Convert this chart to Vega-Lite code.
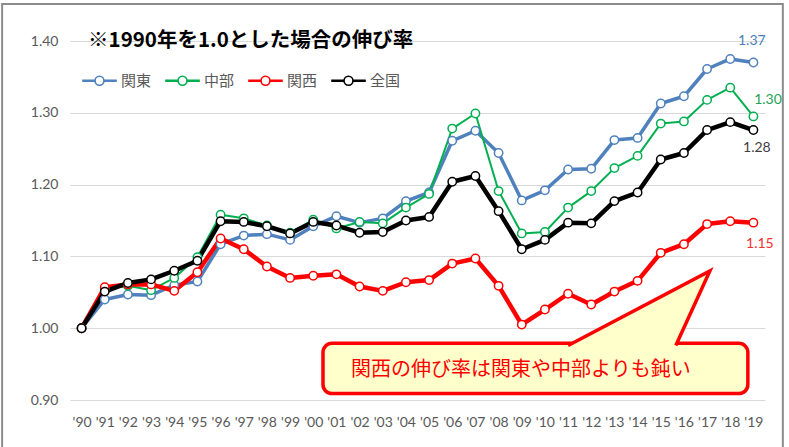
{
  "$schema": "https://vega.github.io/schema/vega-lite/v6.json",
  "width": 695,
  "height": 359,
  "autosize": {"type": "none"},
  "padding": {"left": 70, "top": 41, "right": 24, "bottom": 47},
  "background": "white",
  "config": {
    "view": {"stroke": null},
    "font": "Lato",
    "axisX": {"grid": false, "ticks": false, "domain": false, "tickCount": 30, "labelPadding": 15, "labelFontSize": 14, "labelColor": "#595959", "labelAngle": 0, "labelOverlap": false, "labelSeparation": 0, "labelFlush": false, "labelFont": "Lato"},
    "axisY": {"grid": true, "gridColor": "#D9D9D9", "gridWidth": 1, "ticks": false, "domain": false, "labelPadding": 12, "labelFontSize": 14, "labelColor": "#595959", "labelFont": "Lato"}
  },
  "datasets": {
    "series": [
      {"year": 1990, "関東": 1.000, "中部": 1.000, "関西": 1.000, "全国": 1.000},
      {"year": 1991, "関東": 1.040, "中部": 1.055, "関西": 1.057, "全国": 1.051},
      {"year": 1992, "関東": 1.047, "中部": 1.059, "関西": 1.061, "全国": 1.063},
      {"year": 1993, "関東": 1.046, "中部": 1.053, "関西": 1.061, "全国": 1.068},
      {"year": 1994, "関東": 1.060, "中部": 1.070, "関西": 1.052, "全国": 1.080},
      {"year": 1995, "関東": 1.065, "中部": 1.099, "関西": 1.078, "全国": 1.094},
      {"year": 1996, "関東": 1.117, "中部": 1.158, "関西": 1.125, "全国": 1.149},
      {"year": 1997, "関東": 1.129, "中部": 1.153, "関西": 1.110, "全国": 1.148},
      {"year": 1998, "関東": 1.131, "中部": 1.143, "関西": 1.086, "全国": 1.142},
      {"year": 1999, "関東": 1.123, "中部": 1.133, "関西": 1.070, "全国": 1.132},
      {"year": 2000, "関東": 1.142, "中部": 1.151, "関西": 1.073, "全国": 1.148},
      {"year": 2001, "関東": 1.156, "中部": 1.139, "関西": 1.075, "全国": 1.143},
      {"year": 2002, "関東": 1.147, "中部": 1.148, "関西": 1.058, "全国": 1.133},
      {"year": 2003, "関東": 1.153, "中部": 1.146, "関西": 1.052, "全国": 1.134},
      {"year": 2004, "関東": 1.177, "中部": 1.168, "関西": 1.064, "全国": 1.150},
      {"year": 2005, "関東": 1.189, "中部": 1.187, "関西": 1.067, "全国": 1.155},
      {"year": 2006, "関東": 1.261, "中部": 1.278, "関西": 1.090, "全国": 1.204},
      {"year": 2007, "関東": 1.275, "中部": 1.299, "関西": 1.097, "全国": 1.212},
      {"year": 2008, "関東": 1.244, "中部": 1.191, "関西": 1.059, "全国": 1.163},
      {"year": 2009, "関東": 1.178, "中部": 1.132, "関西": 1.005, "全国": 1.110},
      {"year": 2010, "関東": 1.192, "中部": 1.134, "関西": 1.026, "全国": 1.123},
      {"year": 2011, "関東": 1.221, "中部": 1.168, "関西": 1.048, "全国": 1.147},
      {"year": 2012, "関東": 1.222, "中部": 1.191, "関西": 1.033, "全国": 1.146},
      {"year": 2013, "関東": 1.262, "中部": 1.223, "関西": 1.051, "全国": 1.177},
      {"year": 2014, "関東": 1.265, "中部": 1.240, "関西": 1.066, "全国": 1.189},
      {"year": 2015, "関東": 1.313, "中部": 1.285, "関西": 1.105, "全国": 1.235},
      {"year": 2016, "関東": 1.323, "中部": 1.288, "関西": 1.117, "全国": 1.244},
      {"year": 2017, "関東": 1.361, "中部": 1.318, "関西": 1.145, "全国": 1.276},
      {"year": 2018, "関東": 1.375, "中部": 1.335, "関西": 1.149, "全国": 1.287},
      {"year": 2019, "関東": 1.370, "中部": 1.295, "関西": 1.147, "全国": 1.276}
    ],
    "labels": [
      {"region": "関東", "x": 2018.93, "y": 1.400, "label": "1.37"},
      {"region": "中部", "x": 2019.63, "y": 1.3175, "label": "1.30"},
      {"region": "全国", "x": 2019.15, "y": 1.251, "label": "1.28"},
      {"region": "関西", "x": 2019.28, "y": 1.117, "label": "1.15"}
    ],
    "pointer": [
      {"o": 1, "px": 2011.0, "py": 0.976},
      {"o": 2, "px": 2017.12, "py": 1.0798},
      {"o": 3, "px": 2015.65, "py": 0.976}
    ]
  },
  "layer": [
    {
      "data": {"name": "series"},
      "transform": [{"fold": ["関東", "中部", "関西", "全国"], "as": ["region", "v"]}, {"filter": "datum.region == '関東'"}],
      "mark": {"type": "line", "strokeJoin": "round", "strokeWidth": 3.5},
      "encoding": {
        "x": {
          "field": "year", "type": "quantitative", "title": null,
          "scale": {"domain": [1989.5, 2019.5], "nice": false, "zero": false},
          "axis": {
            "values": [1990,1991,1992,1993,1994,1995,1996,1997,1998,1999,2000,2001,2002,2003,2004,2005,2006,2007,2008,2009,2010,2011,2012,2013,2014,2015,2016,2017,2018,2019],
            "tickCount": 30,
            "format": "d",
            "labelExpr": "\"'\" + slice(datum.label, 2)",
            "labelOverlap": false,
            "labelSeparation": 0,
            "title": null
          }
        },
        "y": {
          "field": "v", "type": "quantitative", "title": null,
          "scale": {"domain": [0.9, 1.4], "nice": false, "zero": false},
          "axis": {"values": [0.9, 1.0, 1.1, 1.2, 1.3, 1.4], "format": ".2f", "title": null}
        },
        "color": {
          "field": "region", "type": "nominal",
          "scale": {"domain": ["関東", "中部", "関西", "全国"], "range": ["#4F81BD", "#00B050", "#FF0000", "#000000"]},
          "legend": {
            "orient": "none", "legendX": 12, "legendY": 22, "direction": "horizontal", "title": null,
            "symbolType": "M-1,-0.03H-0.27V0.03H-1Z M0.27,-0.03H1V0.03H0.27Z M-0.27,0A0.27,0.27 0 1 1 0.27,0A0.27,0.27 0 1 1 -0.27,0Z M-0.27,0A0.27,0.27 0 1 0 0.27,0A0.27,0.27 0 1 0 -0.27,0Z",
            "symbolSize": 1089, "symbolStrokeWidth": 1.6,
            "labelFont": "Noto Sans CJK JP", "labelFontSize": 15, "labelColor": "#595959",
            "labelOffset": 4, "columnPadding": 10
          }
        }
      }
    },
    {
      "data": {"name": "series"},
      "transform": [{"fold": ["関東", "中部", "関西", "全国"], "as": ["region", "v"]}, {"filter": "datum.region == '中部'"}],
      "mark": {"type": "line", "strokeJoin": "round", "strokeWidth": 2},
      "encoding": {
        "x": {"field": "year", "type": "quantitative", "title": null},
        "y": {"field": "v", "type": "quantitative", "title": null},
        "color": {"field": "region", "type": "nominal", "legend": null}
      }
    },
    {
      "data": {"name": "series"},
      "transform": [{"fold": ["関東", "中部", "関西", "全国"], "as": ["region", "v"]}, {"filter": "datum.region == '関西'"}],
      "mark": {"type": "line", "strokeJoin": "round", "strokeWidth": 4.5},
      "encoding": {
        "x": {"field": "year", "type": "quantitative", "title": null},
        "y": {"field": "v", "type": "quantitative", "title": null},
        "color": {"field": "region", "type": "nominal", "legend": null}
      }
    },
    {
      "data": {"name": "series"},
      "transform": [{"fold": ["関東", "中部", "関西", "全国"], "as": ["region", "v"]}, {"filter": "datum.region == '全国'"}],
      "mark": {"type": "line", "strokeJoin": "round", "strokeWidth": 4.5},
      "encoding": {
        "x": {"field": "year", "type": "quantitative", "title": null},
        "y": {"field": "v", "type": "quantitative", "title": null},
        "color": {"field": "region", "type": "nominal", "legend": null}
      }
    },
    {
      "data": {"name": "series"},
      "transform": [{"fold": ["関東", "中部", "関西", "全国"], "as": ["region", "v"]}],
      "mark": {"type": "point", "filled": true, "size": 70, "strokeWidth": 1.5, "opacity": 1},
      "encoding": {
        "x": {"field": "year", "type": "quantitative", "title": null},
        "y": {"field": "v", "type": "quantitative", "title": null},
        "fill": {"value": "white"},
        "stroke": {
          "field": "region", "type": "nominal",
          "scale": {"domain": ["関東", "中部", "関西", "全国"], "range": ["#4F81BD", "#00B050", "#FF0000", "#000000"]},
          "legend": null
        }
      }
    },
    {
      "data": {"name": "labels"},
      "mark": {"type": "text", "fontSize": 14, "font": "Lato", "align": "center", "baseline": "middle"},
      "encoding": {
        "x": {"field": "x", "type": "quantitative", "title": null},
        "y": {"field": "y", "type": "quantitative", "title": null},
        "text": {"field": "label"},
        "fill": {
          "field": "region", "type": "nominal",
          "scale": {"domain": ["関東", "中部", "関西", "全国"], "range": ["#4A7EBB", "#1EA152", "#F03030", "#404040"]},
          "legend": null
        }
      }
    },
    {
      "data": {"values": [{}]},
      "mark": {"type": "rect", "fill": "#FFFFCC", "stroke": "#FF0000", "strokeWidth": 3.5, "cornerRadius": 9},
      "encoding": {
        "x": {"datum": 2000.42, "type": "quantitative", "title": null},
        "x2": {"datum": 2018.76},
        "y": {"datum": 0.979, "type": "quantitative", "title": null},
        "y2": {"datum": 0.909}
      }
    },
    {
      "data": {"name": "pointer"},
      "mark": {"type": "line", "stroke": "#FF0000", "strokeWidth": 3.5, "strokeJoin": "miter", "fill": "#FFFFCC"},
      "encoding": {
        "x": {"field": "px", "type": "quantitative", "title": null},
        "y": {"field": "py", "type": "quantitative", "title": null},
        "order": {"field": "o"}
      }
    },
    {
      "data": {"values": [{}]},
      "mark": {"type": "text", "text": "関西の伸び率は関東や中部よりも鈍い", "font": "Noto Sans CJK JP", "fontSize": 20, "fill": "#FF0000", "align": "center", "baseline": "middle"},
      "encoding": {
        "x": {"datum": 2008.96, "type": "quantitative", "title": null},
        "y": {"datum": 0.9415, "type": "quantitative", "title": null}
      }
    },
    {
      "data": {"values": [{}]},
      "mark": {"type": "text", "text": "※1990年を1.0とした場合の伸び率", "font": "Noto Sans CJK JP", "fontSize": 20.5, "fontWeight": "bold", "fill": "#000000", "align": "left", "baseline": "middle"},
      "encoding": {
        "x": {"datum": 1990.28, "type": "quantitative", "title": null},
        "y": {"datum": 1.40, "type": "quantitative", "title": null}
      }
    },
    {
      "data": {"values": [{}]},
      "mark": {"type": "rect", "fill": null, "stroke": "#8C8C8C", "strokeWidth": 2, "clip": false},
      "encoding": {
        "x": {"datum": 1986.57, "type": "quantitative", "title": null},
        "x2": {"datum": 2020.27},
        "y": {"datum": 1.4515, "type": "quantitative", "title": null},
        "y2": {"datum": 0.80}
      }
    }
  ]
}
